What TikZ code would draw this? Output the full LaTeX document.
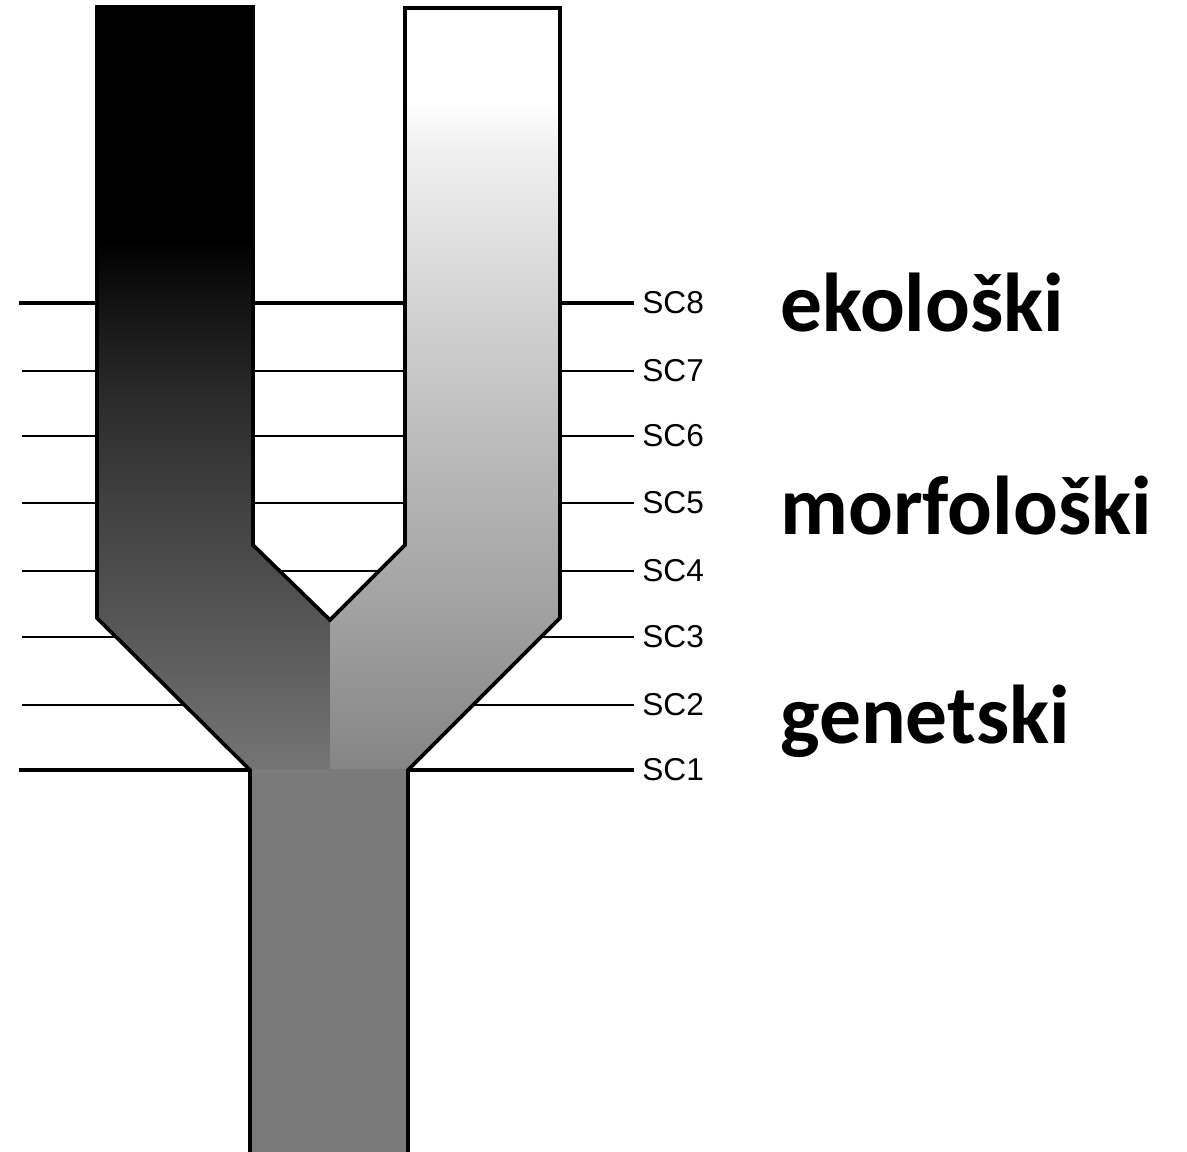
\documentclass[tikz,border=0pt]{standalone}
\usepackage{fontspec}
\setmainfont{Liberation Sans}
\newfontfamily\bigfont{Carlito}
\pgfdeclareverticalshading{leftsh}{100bp}{%
 rgb(0bp)=(0.46,0.46,0.46);
 rgb(25bp)=(0.46,0.46,0.46);
 rgb(29.59bp)=(0.40,0.40,0.40);
 rgb(36.14bp)=(0.32,0.32,0.32);
 rgb(42.69bp)=(0.25,0.25,0.25);
 rgb(49.25bp)=(0.17,0.17,0.17);
 rgb(55.8bp)=(0.07,0.07,0.07);
 rgb(59.7bp)=(0,0,0);
 rgb(100bp)=(0,0,0)}
\pgfdeclareverticalshading{rightsh}{100bp}{%
 rgb(0bp)=(0.52,0.52,0.52);
 rgb(25bp)=(0.52,0.52,0.52);
 rgb(29.6bp)=(0.57,0.57,0.57);
 rgb(36.15bp)=(0.64,0.64,0.64);
 rgb(45.99bp)=(0.73,0.73,0.73);
 rgb(55.8bp)=(0.83,0.83,0.83);
 rgb(65.6bp)=(0.94,0.94,0.94);
 rgb(68.9bp)=(1,1,1);
 rgb(100bp)=(1,1,1)}
\definecolor{stemgray}{gray}{0.48}
\tikzset{
 thinline/.style={line width=1.5pt,black},
 thickline/.style={line width=2.8pt,black},
 sclab/.style={anchor=west,inner sep=0pt,font=\fontsize{18}{20}\selectfont},
 bigtxt/.style={anchor=base west,inner sep=0pt,font=\bigfont\bfseries\fontsize{47.5}{50}\selectfont},
 outline/.style={line width=2.1pt,black,line join=miter}
}
\begin{document}
\begin{tikzpicture}[x=0.02cm,y=-0.02cm]
\useasboundingbox (0,0) rectangle (1187,1152);
% level lines and labels
\foreach \n/\yy/\st/\xs in {8/303/thickline/19,7/371/thinline/22,6/436/thinline/22,5/503/thinline/22,4/571/thinline/22,3/637/thinline/22,2/705/thinline/22,1/770/thickline/19}{
  \node[sclab] (sc\n) at (642,\yy) {SC\n};
  \coordinate (a\n) at (\xs,\yy);
  \draw[\st,shorten >=4.5pt] (a\n) -- (sc\n.west);
}
% fills
\shade[shading=leftsh] (97,7) -- (253,7) -- (253,545) -- (330,620) -- (330,770) -- (250,770) -- (97,618) -- cycle;
\shade[shading=rightsh] (405,8) -- (560,8) -- (560,618) -- (408,770) -- (330,770) -- (330,620) -- (405,545) -- cycle;
\fill[stemgray] (250,769) rectangle (408,1160);
% outline
\draw[outline] (250,1160) -- (250,770) -- (97,618) -- (97,7) -- (253,7) -- (253,545) -- (330,620) -- (405,545) -- (405,8) -- (560,8) -- (560,618) -- (408,770) -- (408,1160);
% big labels
\node[bigtxt] (eko) at (780,332) {ekološki};
\node[bigtxt] (mor) at (780,534) {morfološki};
\node[bigtxt] (gen) at (780,743) {genetski};
\end{tikzpicture}
\end{document}
